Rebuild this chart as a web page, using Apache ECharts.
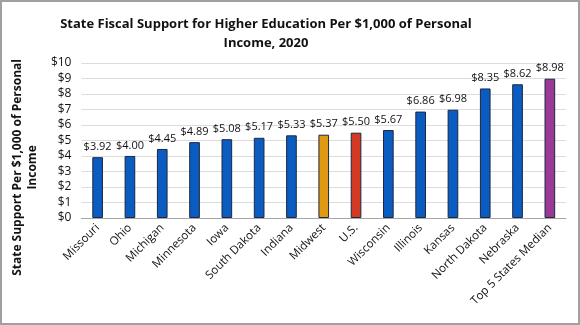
<!DOCTYPE html>
<html>
<head>
<meta charset="utf-8">
<script src="https://cdn.jsdelivr.net/npm/echarts@6/dist/echarts.min.js"></script>
<style>
  html, body { margin: 0; padding: 0; background: #fff; }
  #chart { width: 580px; height: 325px; box-sizing: border-box; border: 2px solid #a0a0a0; }
</style>
</head>
<body>
<div id="chart"></div>
<script>
// State fiscal support per $1,000 of personal income, 2020
const categories = ['Missouri', 'Ohio', 'Michigan', 'Minnesota', 'Iowa', 'South Dakota', 'Indiana',
  'Midwest', 'U.S.', 'Wisconsin', 'Illinois', 'Kansas', 'North Dakota', 'Nebraska', 'Top 5 States Median'];
const values = [3.92, 4.00, 4.45, 4.89, 5.08, 5.17, 5.33, 5.37, 5.50, 5.67, 6.86, 6.98, 8.35, 8.62, 8.98];
const yTicks = [0, 1, 2, 3, 4, 5, 6, 7, 8, 9, 10];

const BLUE = '#0a5cc0';
const barColors = {
  'Midwest': '#e09a12',
  'U.S.': '#d23a26',
  'Top 5 States Median': '#9a3a96'
};

const font = 'Open Sans';
const chart = echarts.init(document.getElementById('chart'));
chart.setOption({
  animation: false,
  title: {
    text: 'State Fiscal Support for Higher Education Per $1,000 of Personal\nIncome, 2020',
    left: 259,
    textAlign: 'center',
    top: 8,
    textStyle: { fontFamily: font, fontSize: 13, fontWeight: 'bold', color: '#111', lineHeight: 19 }
  },
  grid: { left: 77, right: 12, top: 58, bottom: 105 },
  xAxis: {
    type: 'category',
    data: categories,
    axisTick: { show: false },
    axisLine: { lineStyle: { color: '#a6a6a6' } },
    axisLabel: { rotate: 45, interval: 0, fontFamily: font, fontSize: 11.5, color: '#111', margin: 8 }
  },
  yAxis: {
    type: 'value',
    min: yTicks[0],
    max: yTicks[yTicks.length - 1],
    interval: 1,
    name: 'State Support Per $1,000 of Personal\nIncome',
    nameLocation: 'middle',
    nameGap: 33,
    nameTextStyle: { fontFamily: font, fontSize: 12, fontWeight: 'bold', color: '#111', lineHeight: 15, padding: [0, 54, 0, 0] },
    axisLine: { show: false },
    axisTick: { show: false },
    splitLine: { lineStyle: { color: '#dcdcdc' } },
    axisLabel: { fontFamily: font, fontSize: 12, color: '#111', margin: 10, formatter: v => '$' + v }
  },
  series: [{
    type: 'bar',
    barWidth: '33%',
    data: values.map((v, i) => ({
      value: v,
      itemStyle: { color: barColors[categories[i]] || BLUE }
    })),
    itemStyle: { borderColor: '#1c2840', borderWidth: 1 },
    label: {
      show: true,
      position: 'top',
      distance: 5,
      fontFamily: font,
      fontSize: 11,
      color: '#111',
      formatter: p => '$' + p.value.toFixed(2)
    }
  }]
});
</script>
</body>
</html>
